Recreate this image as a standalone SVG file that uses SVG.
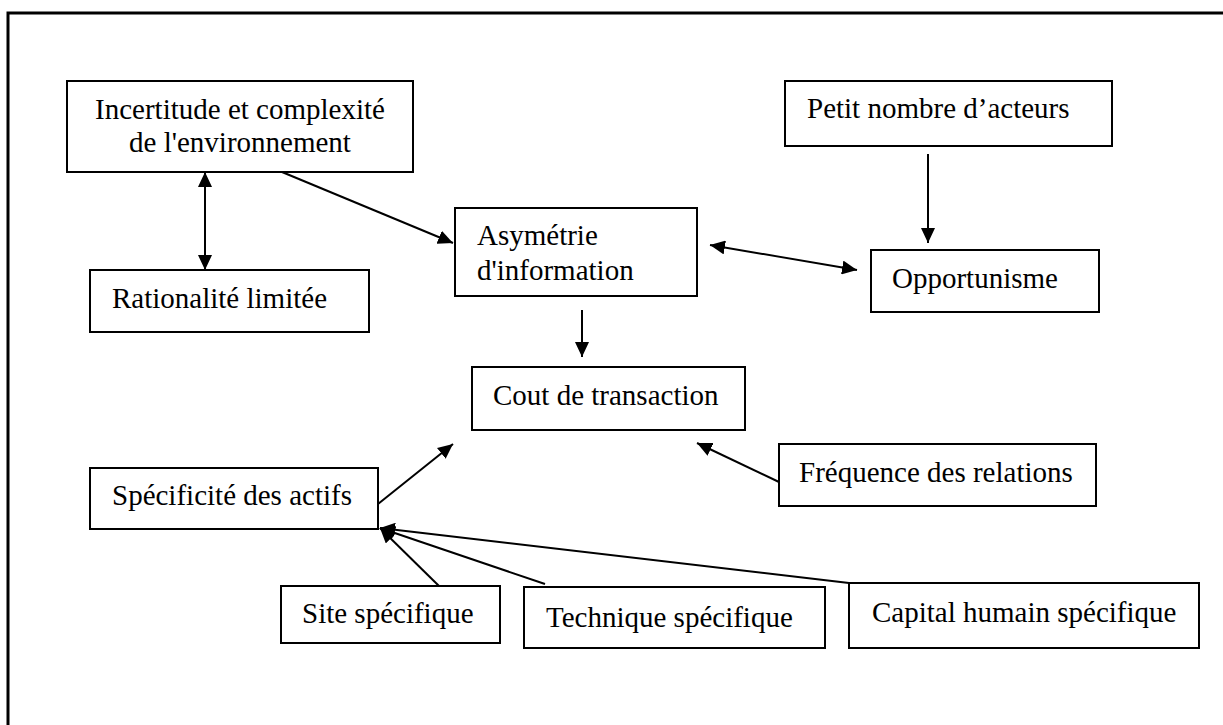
<svg xmlns="http://www.w3.org/2000/svg" width="1223" height="725" viewBox="0 0 1223 725">
<style>
.box{fill:#fff;stroke:#000;stroke-width:2}
.t{font-family:"Liberation Serif","Times New Roman",serif;font-size:29px;fill:#000}
.c{stroke:#000;stroke-width:2;fill:none}
.frame{stroke:#000;stroke-width:3;fill:none}
</style>
<defs>
<marker id="ah" markerUnits="userSpaceOnUse" markerWidth="16" markerHeight="14" refX="15" refY="7" orient="auto-start-reverse" viewBox="0 0 16 14">
<path d="M0,0 L15,7 L0,14 z" fill="#000"/>
</marker>
</defs>
<rect width="1223" height="725" fill="#fff"/>
<path class="frame" d="M8,725 L8,13 L1223,13"/>
<g id="connectors">
<line class="c" x1="205" y1="172" x2="205" y2="270" marker-start="url(#ah)" marker-end="url(#ah)"/>
<line class="c" x1="282" y1="172" x2="453" y2="243" marker-end="url(#ah)"/>
<line class="c" x1="710" y1="245" x2="857" y2="270" marker-start="url(#ah)" marker-end="url(#ah)"/>
<line class="c" x1="928" y1="154" x2="928" y2="243" marker-end="url(#ah)"/>
<line class="c" x1="582" y1="310" x2="582" y2="357" marker-end="url(#ah)"/>
<line class="c" x1="779" y1="482" x2="697" y2="443" marker-end="url(#ah)"/>
<line class="c" x1="378" y1="504" x2="453" y2="444" marker-end="url(#ah)"/>
<line class="c" x1="439" y1="586" x2="380" y2="528" marker-end="url(#ah)"/>
<line class="c" x1="545" y1="584" x2="380" y2="528" marker-end="url(#ah)"/>
<line class="c" x1="849" y1="583" x2="380" y2="528" marker-end="url(#ah)"/>
</g>
<g id="incertitude">
<rect class="box" x="67" y="81" width="346" height="91"/>
<text class="t" x="240" y="119" text-anchor="middle">Incertitude et complexité</text>
<text class="t" x="240" y="152" text-anchor="middle">de l'environnement</text>
</g>
<g id="rationalite">
<rect class="box" x="90" y="270" width="279" height="62"/>
<text class="t" x="112" y="308">Rationalité limitée</text>
</g>
<g id="petit-nombre">
<rect class="box" x="785" y="81" width="327" height="65"/>
<text class="t" x="807" y="118">Petit nombre d’acteurs</text>
</g>
<g id="asymetrie">
<rect class="box" x="455" y="208" width="242" height="88"/>
<text class="t" x="477" y="245">Asymétrie</text>
<text class="t" x="477" y="280">d'information</text>
</g>
<g id="opportunisme">
<rect class="box" x="871" y="250" width="228" height="62"/>
<text class="t" x="892" y="288">Opportunisme</text>
</g>
<g id="cout">
<rect class="box" x="472" y="367" width="273" height="63"/>
<text class="t" x="493" y="405">Cout de transaction</text>
</g>
<g id="frequence">
<rect class="box" x="779" y="444" width="317" height="62"/>
<text class="t" x="799" y="482">Fréquence des relations</text>
</g>
<g id="specificite">
<rect class="box" x="90" y="468" width="288" height="61"/>
<text class="t" x="112" y="505">Spécificité des actifs</text>
</g>
<g id="site">
<rect class="box" x="281" y="586" width="219" height="57"/>
<text class="t" x="302" y="623">Site spécifique</text>
</g>
<g id="technique">
<rect class="box" x="524" y="587" width="301" height="61"/>
<text class="t" x="546" y="627">Technique spécifique</text>
</g>
<g id="capital">
<rect class="box" x="849" y="583" width="350" height="65"/>
<text class="t" x="872" y="622">Capital humain spécifique</text>
</g>
</svg>
